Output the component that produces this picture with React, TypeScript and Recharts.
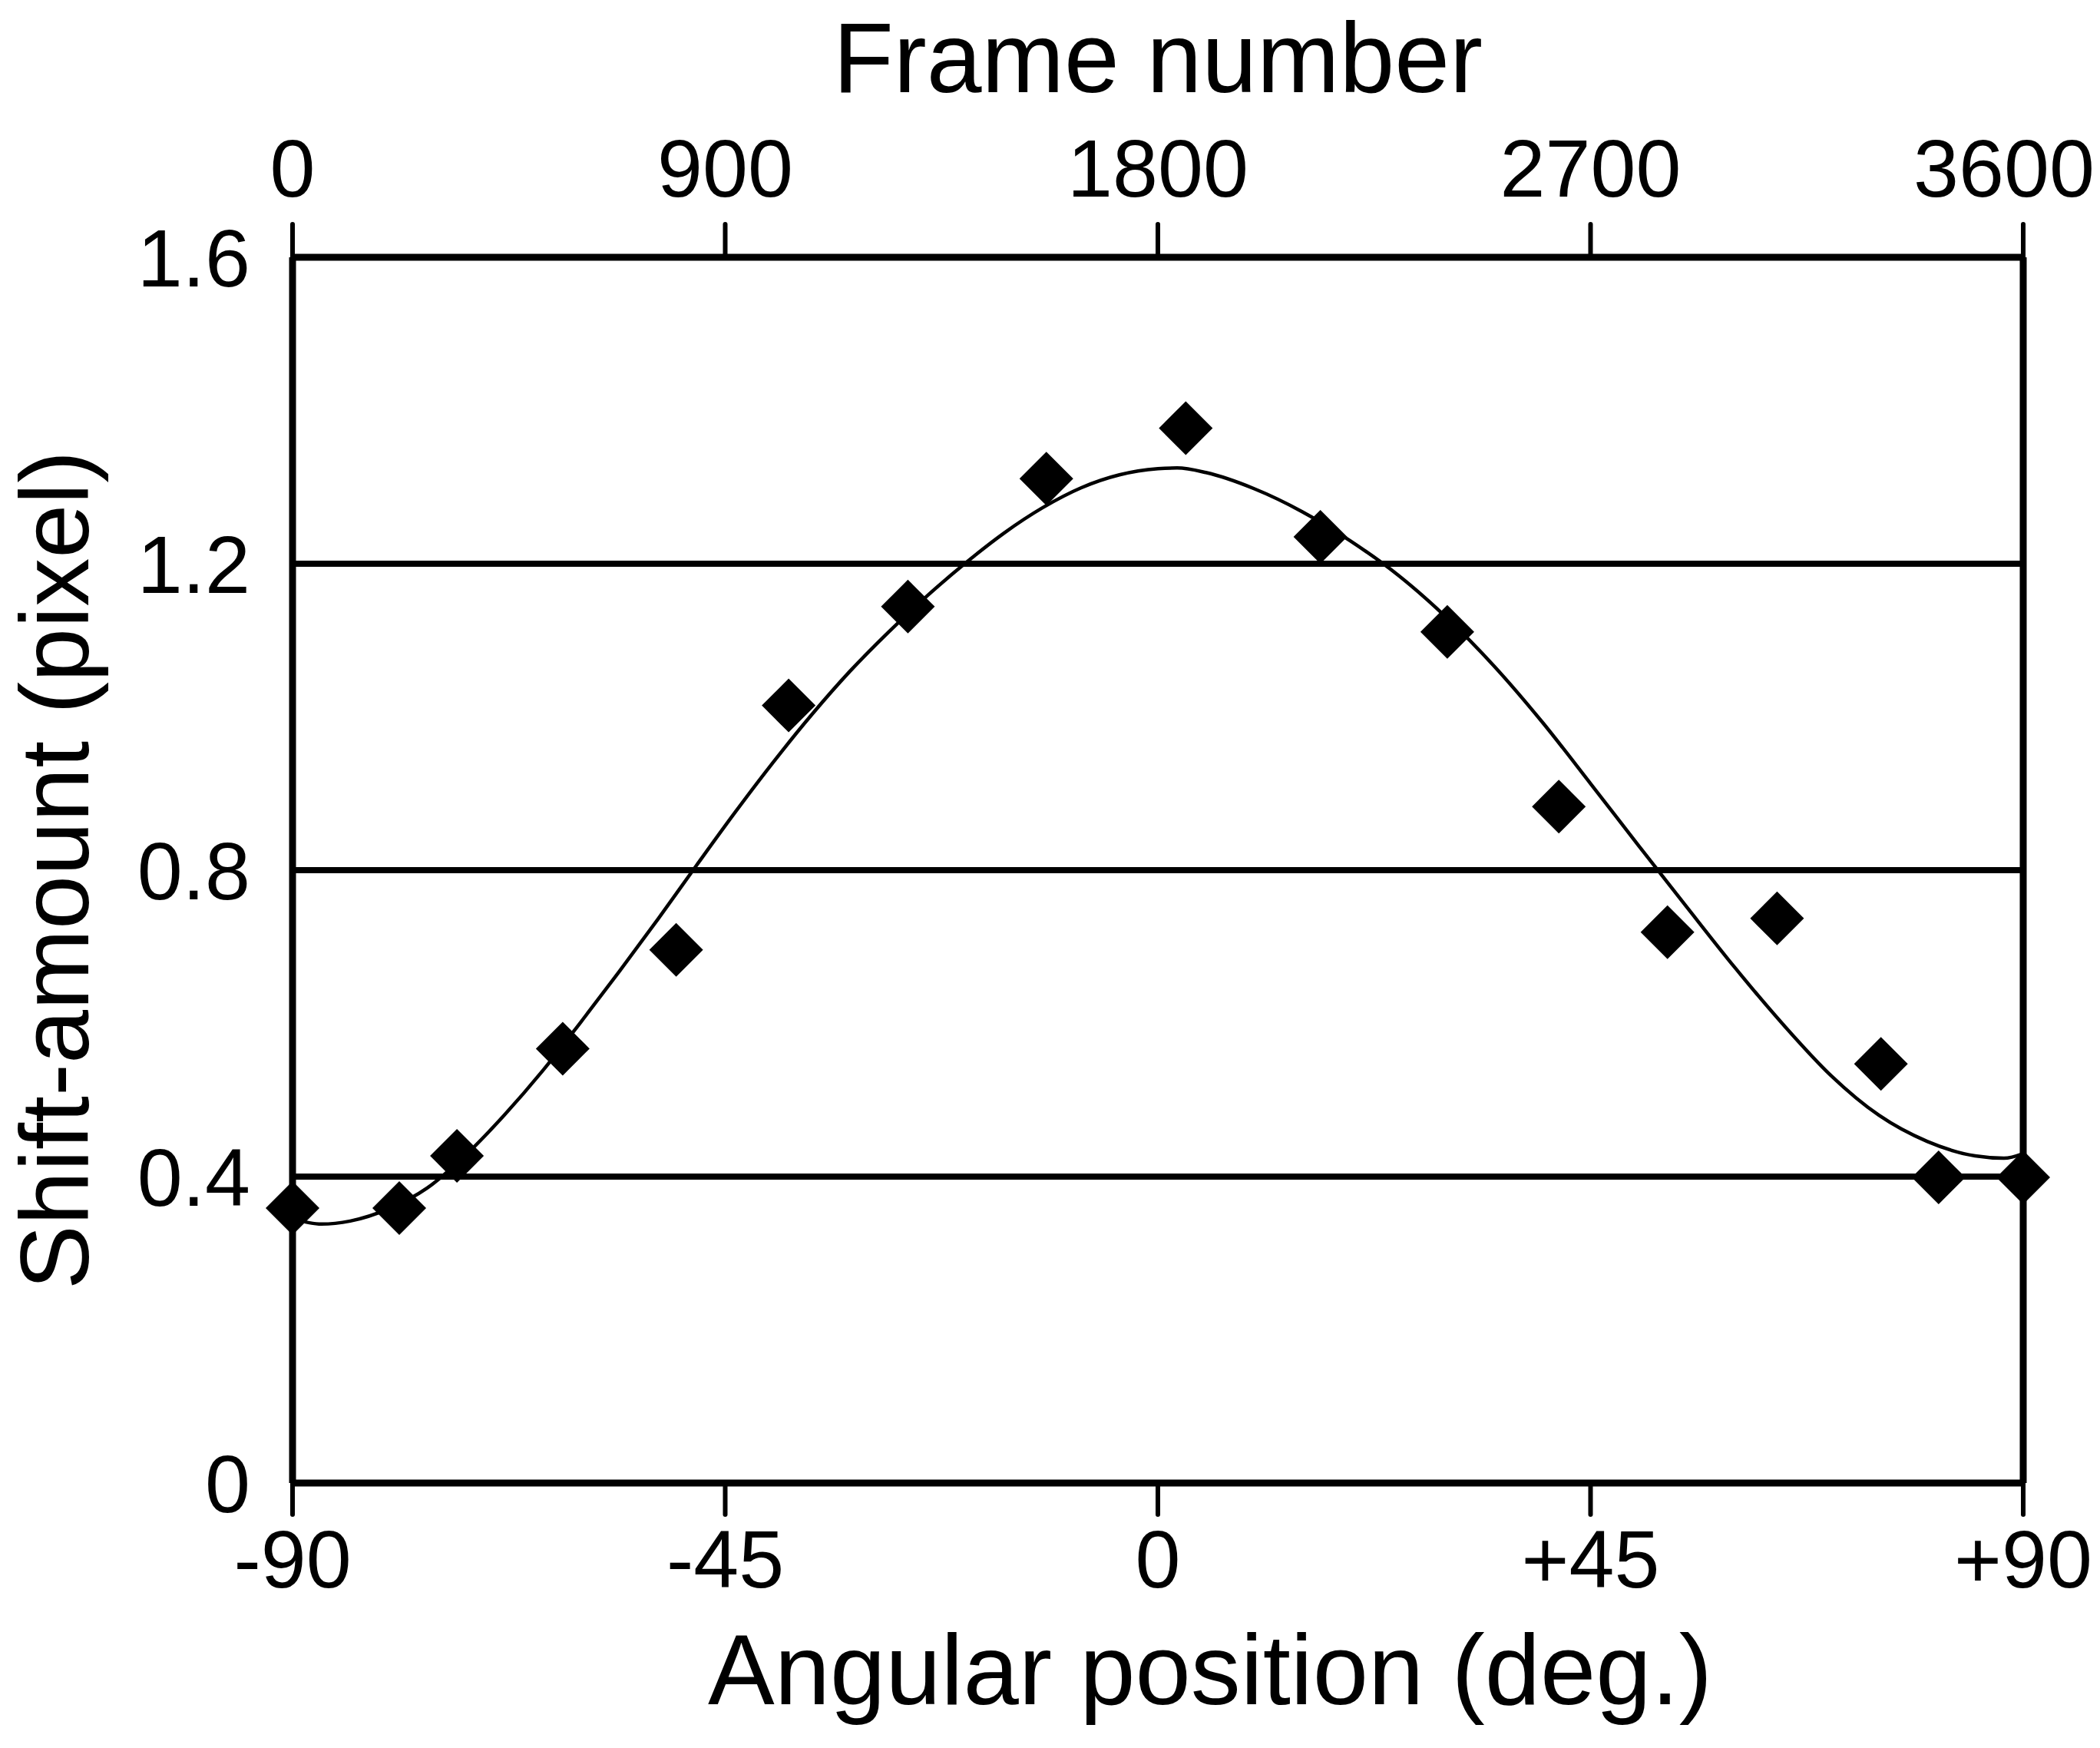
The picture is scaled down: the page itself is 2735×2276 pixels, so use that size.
import React from "react";
import {
  CartesianGrid,
  ComposedChart,
  Label,
  Line,
  ReferenceLine,
  Scatter,
  XAxis,
  YAxis,
} from "recharts";

const angleTicks = [-90, -45, 0, 45, 90];
const frameTicks = [0, 900, 1800, 2700, 3600];
const shiftTicks = [0, 0.4, 0.8, 1.2, 1.6];

// measured shift (diamonds)
const measuredAngle = [-90, -78.9, -72.9, -61.9, -50.1, -38.4, -26, -11.6, 2.9, 16.9, 30.1, 41.7, 53, 64.4, 75.2, 81.2, 90];
const measuredShift = [0.359, 0.359, 0.427, 0.567, 0.696, 1.015, 1.144, 1.311, 1.377, 1.235, 1.111, 0.883, 0.719, 0.737, 0.547, 0.399, 0.399];

// fitted curve
const fitAngle = [
  -90, -87, -84, -80, -76, -72, -68, -64, -60, -56, -52, -48, -44, -40, -36, -32, -28, -24, -20, -16, -12, -8, -4, 0, 2,
  5, 10, 15, 20, 25, 30, 35, 40, 45, 50, 55, 60, 65, 70, 75, 80, 85, 88, 90,
];
const fitShift = [
  0.345, 0.338, 0.342, 0.358, 0.385, 0.428, 0.48, 0.538, 0.602, 0.668, 0.736, 0.806, 0.875, 0.941, 1.003, 1.06, 1.111,
  1.158, 1.201, 1.24, 1.273, 1.299, 1.316, 1.324, 1.325, 1.319, 1.298, 1.268, 1.23, 1.185, 1.13, 1.066, 0.993, 0.913,
  0.832, 0.752, 0.673, 0.599, 0.532, 0.48, 0.446, 0.427, 0.424, 0.43,
];

const measured = measuredAngle.map((angle, i) => ({ angle, shift: measuredShift[i] }));
const fitted = fitAngle.map((angle, i) => ({ angle, shift: fitShift[i] }));
// the top axis needs a series of its own to draw its ticks
const frameAnchors = frameTicks.map((frame) => ({ frame, shift: 0 }));

const FONT = "'Liberation Sans', Arial, sans-serif";
const tickStyle = { fontSize: 106, fill: "#000", fontFamily: FONT };
const titleStyle = { fill: "#000", fontFamily: FONT };

const Diamond = (props: any) => {
  const { cx, cy } = props;
  const r = 35;
  return <path d={`M${cx},${cy - r}L${cx + r},${cy}L${cx},${cy + r}L${cx - r},${cy}Z`} fill="#000" />;
};

const Nothing = () => <g />;

const TopTick = (props: any) => {
  const { x, y, payload, index } = props;
  const shift = index === frameTicks.length - 1 ? -25 : 0;
  return (
    <text x={x + shift} y={y} textAnchor="middle" {...tickStyle}>
      {payload.value}
    </text>
  );
};

const fmtAngle = (v: number) => (v > 0 ? `+${v}` : `${v}`);
const fmtShift = (v: number) => (v === 0 ? "0" : v.toFixed(1));

export default function App() {
  return (
    <div style={{ position: "absolute", left: 0, top: 0, background: "#fff" }}>
      <ComposedChart width={2735} height={2276} margin={{ top: 0, right: 100, bottom: 45, left: 0 }}>
        <CartesianGrid vertical={false} stroke="#000" strokeWidth={8} />
        <XAxis
          xAxisId={0}
          dataKey="angle"
          type="number"
          domain={[-90, 90]}
          ticks={angleTicks}
          interval={0}
          tickFormatter={fmtAngle}
          height={300}
          tickSize={41}
          tickMargin={20}
          axisLine={{ stroke: "#000", strokeWidth: 9 }}
          tickLine={{ stroke: "#000", strokeWidth: 6, strokeLinecap: "round" }}
          tick={tickStyle}
        >
          <Label
            value="Angular position (deg.)"
            position="insideBottom"
            offset={12}
            dx={68}
            fontSize={130}
            {...titleStyle}
          />
        </XAxis>
        <XAxis
          xAxisId="top"
          dataKey="frame"
          orientation="top"
          type="number"
          domain={[0, 3600]}
          allowDataOverflow
          ticks={frameTicks}
          interval={0}
          height={335}
          tickSize={43}
          tickMargin={36}
          axisLine={{ stroke: "#000", strokeWidth: 9 }}
          tickLine={{ stroke: "#000", strokeWidth: 6, strokeLinecap: "round" }}
          tick={<TopTick />}
        >
          <Label value="Frame number" position="insideTop" offset={28} fontSize={129} {...titleStyle} />
        </XAxis>
        <YAxis
          dataKey="shift"
          type="number"
          domain={[0, 1.6]}
          ticks={shiftTicks}
          interval={0}
          tickFormatter={fmtShift}
          width={381}
          tickSize={0}
          tickMargin={55}
          tickLine={false}
          axisLine={{ stroke: "#000", strokeWidth: 9 }}
          tick={tickStyle}
        >
          <Label
            value="Shift-amount (pixel)"
            angle={-90}
            position="insideLeft"
            offset={70}
            style={{ textAnchor: "middle" }}
            fontSize={126}
            {...titleStyle}
          />
        </YAxis>
        <ReferenceLine x={90} stroke="#000" strokeWidth={9} />
        <Scatter
          xAxisId="top"
          data={frameAnchors}
          dataKey="shift"
          shape={<Nothing />}
          legendType="none"
          isAnimationActive={false}
        />
        <Line
          data={fitted}
          dataKey="shift"
          type="monotone"
          dot={false}
          activeDot={false}
          stroke="#000"
          strokeWidth={4.5}
          isAnimationActive={false}
        />
        <Scatter data={measured} dataKey="shift" shape={<Diamond />} isAnimationActive={false} />
      </ComposedChart>
    </div>
  );
}
